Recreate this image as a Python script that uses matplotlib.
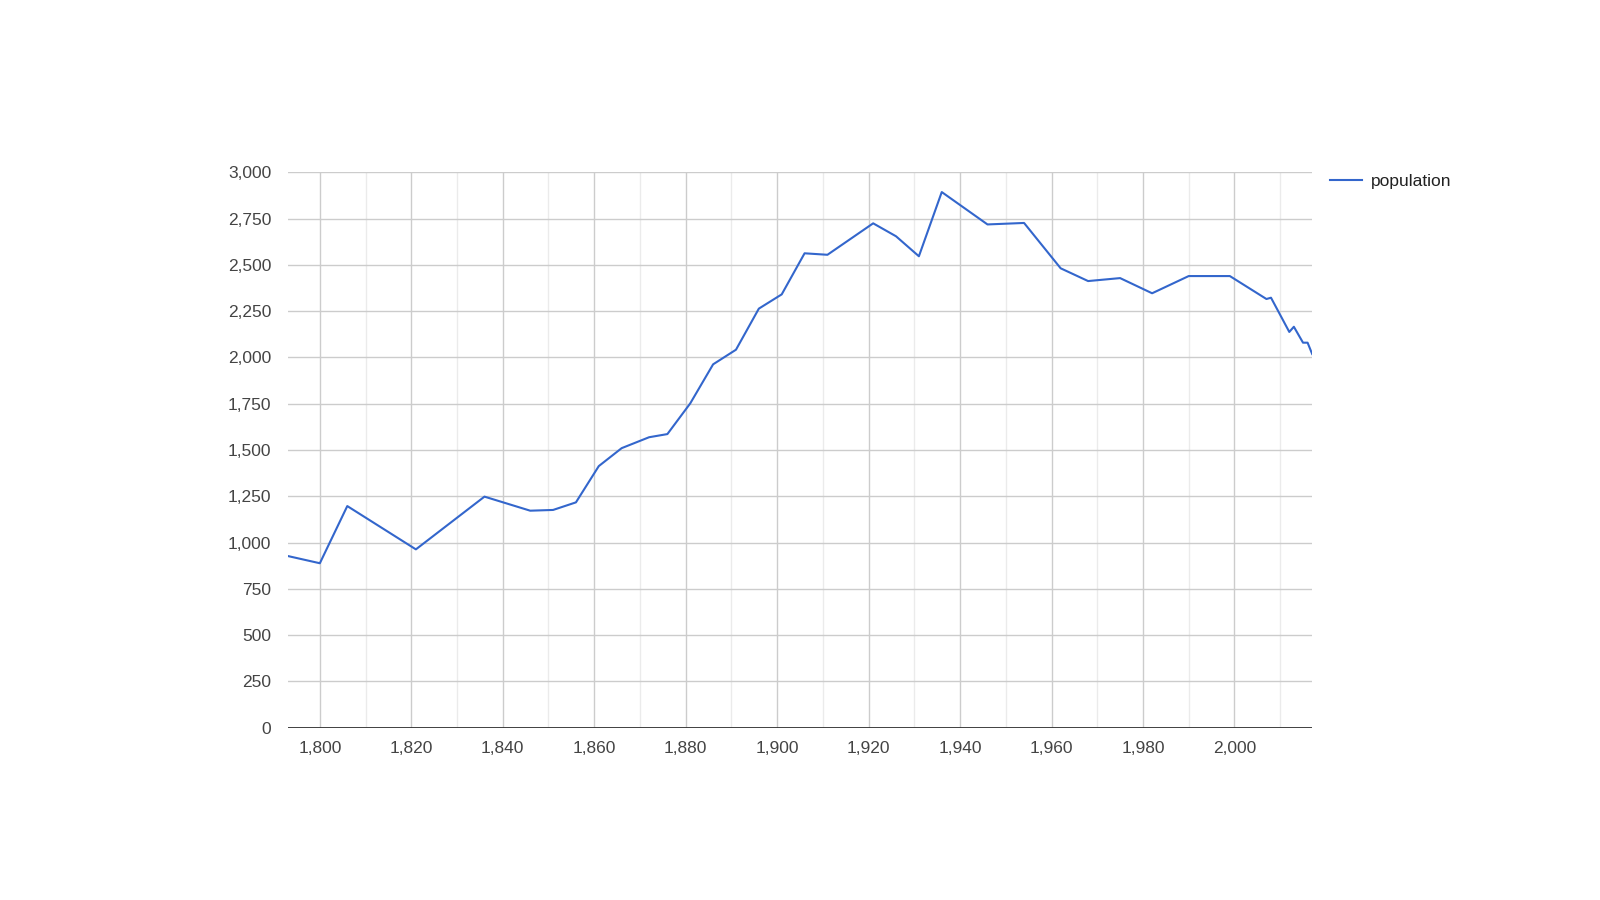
import matplotlib
matplotlib.use("Agg")
import matplotlib.pyplot as plt
from matplotlib.ticker import MultipleLocator, FuncFormatter

plt.rcParams['font.family'] = ['Liberation Sans', 'DejaVu Sans']

# census years and population
years = [1793, 1800, 1806, 1821, 1836, 1846, 1851, 1856, 1861, 1866, 1872, 1876,
         1881, 1886, 1891, 1896, 1901, 1906, 1911, 1921, 1926, 1931, 1936, 1946,
         1954, 1962, 1968, 1975, 1982, 1990, 1999, 2007, 2008, 2012, 2013, 2015,
         2016, 2017]
population = [927, 888, 1197, 963, 1248, 1172, 1176, 1217, 1413, 1510, 1569, 1586,
              1752, 1963, 2042, 2264, 2341, 2563, 2555, 2725, 2655, 2547, 2894, 2719,
              2727, 2482, 2413, 2429, 2347, 2440, 2440, 2316, 2323, 2138, 2166, 2080,
              2080, 2019]
series_name = "population"

fig = plt.figure(figsize=(16, 9), dpi=100)
ax = fig.add_axes([0.1799, 0.1916, 0.6402, 0.6168])

ax.plot(years, population, color="#3366cc", linewidth=1.5, label=series_name, zorder=3)

ax.set_xlim(min(years), max(years))
ax.set_ylim(0, 3000)
ax.xaxis.set_major_locator(MultipleLocator(20))
ax.xaxis.set_minor_locator(MultipleLocator(10))
ax.yaxis.set_major_locator(MultipleLocator(250))
fmt = FuncFormatter(lambda v, p: f"{int(v):,}")
ax.xaxis.set_major_formatter(fmt)
ax.yaxis.set_major_formatter(fmt)

ax.grid(which="major", color="#cccccc", linewidth=1)
ax.grid(which="minor", axis="x", color="#ebebeb", linewidth=1)
ax.set_axisbelow(True)
ax.axhline(0, color="#333333", linewidth=1.3, zorder=4)

for s in ax.spines.values():
    s.set_visible(False)
ax.tick_params(which="both", length=0)
ax.tick_params(axis="x", pad=10, labelsize=12.5, labelcolor="#444444")
ax.tick_params(axis="y", pad=12, labelsize=12.5, labelcolor="#444444")

leg = ax.legend(loc="upper left", bbox_to_anchor=(0.997, 1.035), frameon=False,
                fontsize=12.5, handlelength=1.85, handletextpad=0.5,
                borderaxespad=0.8)
for t in leg.get_texts():
    t.set_color("#222222")

fig.savefig("out.png", dpi=100)
